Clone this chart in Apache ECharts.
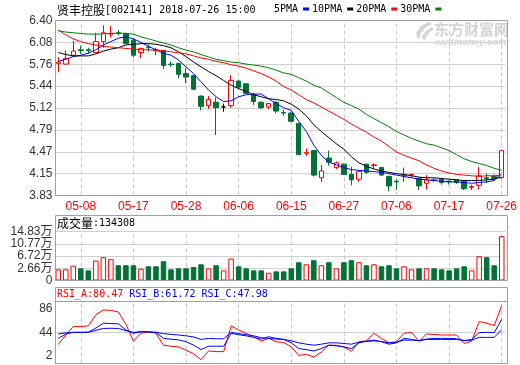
<!DOCTYPE html>
<html><head><meta charset="utf-8">
<script src="https://cdn.jsdelivr.net/npm/echarts@6/dist/echarts.min.js"></script>
<style>html,body{margin:0;padding:0;background:#fff}#c{width:520px;height:365px}</style>
</head><body><div id="c"></div>
<script>
const stockName = '贤丰控股', stockCode = '002141', stamp = '2018-07-26 15:00';
const dates = ['05-03','05-04','05-07','05-08','05-09','05-10','05-11','05-14','05-15','05-16','05-17','05-18','05-21','05-22','05-23','05-24','05-25','05-28','05-29','05-30','05-31',
 '06-01','06-04','06-05','06-06','06-07','06-08','06-11','06-12','06-13','06-14','06-15','06-19','06-20','06-21','06-22','06-25','06-26','06-27','06-28','06-29',
 '07-02','07-03','07-04','07-05','07-06','07-09','07-10','07-11','07-12','07-13','07-16','07-17','07-18','07-19','07-20','07-23','07-24','07-25','07-26'];
const labelDates = ['05-08','05-17','05-28','06-06','06-15','06-27','07-06','07-17','07-26'];
const opens  = [5.77,5.76,5.89,5.97,5.97,5.93,6.09,6.20,6.22,6.21,6.11,5.93,6.01,5.97,5.96,5.76,5.77,5.62,5.59,5.29,5.15,5.20,5.13,5.15,5.51,5.47,5.31,5.20,5.13,5.20,5.05,5.04,4.89,4.45,4.49,4.09,4.38,4.24,4.29,4.14,4.07,4.29,4.27,4.24,4.11,4.04,4.12,4.13,4.08,4.01,4.06,4.07,4.04,4.06,4.04,3.95,3.98,4.09,4.11,4.09];
const closes = [5.79,5.84,5.95,5.96,5.96,6.09,6.22,6.21,6.21,6.06,5.89,5.99,6.00,5.96,5.74,5.75,5.61,5.57,5.39,5.14,5.24,5.12,5.13,5.52,5.42,5.33,5.21,5.12,5.18,5.07,5.04,4.92,4.43,4.46,4.13,4.19,4.32,4.31,4.14,4.06,4.18,4.17,4.28,4.13,3.97,4.03,4.13,4.14,3.97,4.06,4.05,4.02,4.03,4.02,3.93,3.96,4.12,4.08,4.08,4.49];
const lows   = [5.64,5.75,5.87,5.91,5.91,5.92,6.00,6.15,6.18,6.05,5.86,5.85,5.94,5.89,5.69,5.72,5.55,5.48,5.38,5.08,5.10,4.72,5.06,5.12,5.39,5.32,5.16,5.10,5.10,5.04,5.00,4.91,4.43,4.41,4.11,4.03,4.27,4.22,4.13,3.98,4.03,4.15,4.22,4.12,3.89,3.91,4.03,4.09,3.91,3.92,4.03,3.99,3.99,4.00,3.91,3.91,3.92,4.01,4.05,4.08];
const highs  = [5.86,5.96,6.10,6.03,6.00,6.22,6.33,6.32,6.26,6.22,6.14,6.00,6.05,6.00,5.97,5.80,5.78,5.70,5.60,5.30,5.29,5.27,5.18,5.60,5.53,5.48,5.34,5.21,5.18,5.22,5.09,5.06,4.89,4.52,4.49,4.28,4.49,4.33,4.30,4.25,4.20,4.30,4.30,4.25,4.12,4.07,4.24,4.15,4.09,4.13,4.08,4.08,4.05,4.07,4.05,3.99,4.25,4.15,4.14,4.49];
const ma5  = [5.80,5.83,5.87,5.89,5.92,5.97,6.04,6.09,6.14,6.16,6.13,6.08,6.02,5.97,5.92,5.89,5.82,5.72,5.62,5.50,5.38,5.28,5.21,5.22,5.28,5.31,5.32,5.32,5.25,5.18,5.12,5.08,4.92,4.77,4.57,4.42,4.32,4.28,4.24,4.21,4.20,4.19,4.18,4.17,4.15,4.13,4.11,4.09,4.07,4.06,4.05,4.04,4.03,4.03,4.02,4.01,4.02,4.03,4.05,4.16];
const ma10 = [5.93,5.90,5.88,5.88,5.88,5.91,5.95,5.98,6.00,6.04,6.05,6.06,6.06,6.05,6.03,6.00,5.94,5.87,5.79,5.72,5.65,5.59,5.52,5.45,5.40,5.36,5.31,5.28,5.25,5.24,5.22,5.17,5.10,5.00,4.87,4.77,4.68,4.59,4.51,4.40,4.31,4.26,4.22,4.19,4.17,4.15,4.14,4.12,4.10,4.09,4.09,4.08,4.07,4.06,4.05,4.05,4.05,4.06,4.07,4.10];
const ma20 = [6.26,6.19,6.13,6.09,6.06,6.04,6.02,6.01,6.00,5.99,5.98,5.97,5.97,5.96,5.955,5.94,5.925,5.91,5.88,5.85,5.83,5.80,5.78,5.75,5.73,5.70,5.66,5.62,5.57,5.51,5.43,5.38,5.31,5.24,5.19,5.13,5.07,5.01,4.95,4.88,4.82,4.76,4.69,4.63,4.55,4.47,4.42,4.38,4.34,4.28,4.23,4.19,4.16,4.14,4.13,4.12,4.11,4.12,4.12,4.13];
const ma30 = [6.25,6.23,6.22,6.21,6.20,6.20,6.205,6.21,6.215,6.21,6.20,6.16,6.13,6.10,6.07,6.04,6.00,5.965,5.94,5.90,5.865,5.83,5.81,5.79,5.78,5.76,5.745,5.73,5.705,5.67,5.63,5.61,5.56,5.51,5.45,5.41,5.34,5.27,5.20,5.15,5.10,5.02,4.96,4.90,4.84,4.77,4.72,4.67,4.63,4.59,4.57,4.53,4.49,4.43,4.37,4.33,4.30,4.27,4.23,4.20];
const volumes = [3.38,3.38,4.50,3.68,3.07,6.04,7.06,6.45,4.61,4.61,4.61,3.58,4.30,4.30,5.83,3.38,3.68,3.68,4.09,4.91,3.68,4.61,3.07,6.65,4.30,3.68,3.07,3.07,2.35,2.76,2.76,3.68,5.53,4.91,6.14,4.61,5.53,3.68,5.53,6.14,5.53,4.61,4.91,4.30,4.61,3.68,4.30,3.38,3.68,3.68,3.68,3.38,3.07,3.68,4.30,3.07,7.37,7.06,4.61,13.4308];
const rsiA = [27.7,40.6,52,52,53,68.1,74.5,74,71.8,55.2,32.3,42.9,45.1,42.9,26.8,25.4,24.5,19.9,15.3,7.1,19,18.1,18.1,53,47.4,42.9,38.3,32.3,36,31.4,30.5,24.5,13,14.4,10.7,17.6,26.8,26.8,24.5,18.5,31.4,32.8,42.9,36,30,31.4,42.9,44.2,32.3,41.9,41.4,40.6,40.6,40.6,29.1,32.3,58.9,56.6,53.4,80.47];
const rsiB = [36,42,44.2,44.2,44.5,50,56.6,56.2,55.7,47.5,42.9,45.1,44.8,44.2,36,35,34,31.5,27,20.8,25.4,25.4,25.4,42.9,41,39.5,37.4,35,38.3,36,34.6,30,22.2,20.8,19,22.2,26.8,25.9,24.5,22.2,30,32.3,33.7,31.4,28.2,30,36,34.6,32.7,35.1,36,36,36,35.6,32.7,34.6,43.8,44.2,43.8,61.72];
const rsiC = [41.9,43.5,44.2,44.2,44.2,47,49.5,49.7,49.5,46.5,44.2,45.1,44.5,44.2,42.5,41.5,40.6,39.5,38,34.6,36,35.5,35.5,44.2,42.5,41,39.5,37,36,35.1,34.6,32.7,30,28.2,26.8,28.2,30,30,29.1,28.2,30.9,31.8,32.7,31.8,30,30.9,33.7,33.7,33.2,34.6,34.6,34.6,34.6,34.6,33.2,33.7,37.4,37.4,37.4,47.98];
const priceTicks = ['3.83','4.15','4.47','4.79','5.12','5.44','5.76','6.08','6.40'];
const volTicks = ['0','2.66万','6.72万','10.77万','14.83万'];
const rsiTicks = ['2','44','86'];

const RED = '#ff0000', GREEN = '#007236', BLUE = '#0000ff';
const MONO = 'DejaVu Sans Mono', CJK = 'Noto Sans CJK SC', SANS = "'Liberation Sans','Noto Sans CJK SC'";
const GRID_L = 54.5, GRID_W = 451;
const P_MIN = 3.83, P_MAX = 6.40, P_INT = (P_MAX - P_MIN) / 8;
const V_MAX = 14.83, V_INT = V_MAX / 4;

const chart = echarts.init(document.getElementById('c'), null, {renderer: 'canvas'});

const candleData = dates.map((d, i) => [opens[i], closes[i], lows[i], highs[i]]);
const volData = volumes.map((v, i) => ({
  value: v,
  itemStyle: closes[i] >= opens[i]
    ? {color: '#ffffff', borderColor: RED, borderWidth: 1}
    : {color: GREEN, borderColor: GREEN, borderWidth: 1}
}));
const vMark = {
  silent: true, z: 1, animation: false, symbol: ['none', 'none'],
  label: {show: false}, emphasis: {disabled: true},
  lineStyle: {type: [4, 3], color: '#c8c8c8', width: 1},
  data: labelDates.map(d => ({xAxis: d}))
};
function xAx(gi, show) {
  return {
    type: 'category', gridIndex: gi, data: dates, boundaryGap: true,
    axisLine: {show: false}, axisTick: {show: false}, splitLine: {show: false},
    axisLabel: show ? {
      show: true, color: RED, fontFamily: SANS, fontSize: 12, margin: 5,
      interval: (idx) => labelDates.indexOf(dates[idx]) >= 0
    } : {show: false}
  };
}
const splitL = {show: true, lineStyle: {color: '#d0d0d0', width: 1}};
const vol = volumes[volumes.length - 1];
const volHeader = String(Math.round(vol * 10000));

const option = {
  animation: false,
  backgroundColor: '#ffffff',
  title: [
    {text: `{c|${stockName}}{a|[${stockCode}] ${stamp}}`, left: 57, top: 4, padding: 0,
     textStyle: {fontWeight: 'normal', fontSize: 12, rich: {
       c: {fontFamily: CJK, fontSize: 12, color: '#000', fontWeight: 'normal'},
       a: {fontFamily: MONO, fontSize: 10, color: '#000', fontWeight: 'normal'}}}},
    {text: `{c|成交量}{a|:${volHeader}}`, left: 57, top: 217, padding: 0,
     textStyle: {fontWeight: 'normal', fontSize: 12, rich: {
       c: {fontFamily: CJK, fontSize: 12, color: '#000', fontWeight: 'normal'},
       a: {fontFamily: MONO, fontSize: 10, color: '#000', fontWeight: 'normal'}}}},
    {text: `{r|RSI_A:${rsiA[rsiA.length-1].toFixed(2)} }{b|RSI_B:${rsiB[rsiB.length-1].toFixed(2)} }{b|RSI_C:${rsiC[rsiC.length-1].toFixed(2)}}`,
     left: 57, top: 289, padding: 0,
     textStyle: {fontWeight: 'normal', fontSize: 10, rich: {
       r: {fontFamily: MONO, fontSize: 10, color: RED, fontWeight: 'normal'},
       b: {fontFamily: MONO, fontSize: 10, color: BLUE, fontWeight: 'normal'}}}}
  ],
  legend: {
    data: ['5PMA', '10PMA', '20PMA', '30PMA'], left: 274, top: 4, padding: 0,
    icon: 'rect', itemWidth: 6, itemHeight: 3, itemGap: 3, align: 'right', selectedMode: false,
    textStyle: {fontFamily: MONO, fontSize: 10, color: '#000'}
  },
  grid: [
    {left: GRID_L, width: GRID_W, top: 20.5, height: 175},
    {left: GRID_L, width: GRID_W, top: 231.5, height: 49},
    {left: GRID_L, width: GRID_W, top: 301.5, height: 62}
  ],
  xAxis: [xAx(0, true), xAx(1, false), xAx(2, false)],
  yAxis: [
    {type: 'value', gridIndex: 0, min: P_MIN, max: P_MAX, interval: P_INT,
     axisLine: {show: false}, axisTick: {show: false}, splitLine: splitL,
     axisLabel: {color: '#333', fontFamily: SANS, fontSize: 12, margin: 2,
       formatter: v => priceTicks[Math.round((v - P_MIN) / P_INT)]}},
    {type: 'value', gridIndex: 1, min: 0, max: V_MAX, interval: V_INT,
     axisLine: {show: false}, axisTick: {show: false}, splitLine: splitL,
     axisLabel: {color: '#333', fontFamily: SANS, fontSize: 12, margin: 2,
       formatter: v => volTicks[Math.round(v / V_INT)]}},
    {type: 'value', gridIndex: 2, min: 2, max: 86, interval: 42,
     axisLine: {show: false}, axisTick: {show: false}, splitLine: splitL,
     axisLabel: {color: '#333', fontFamily: SANS, fontSize: 12, margin: 2,
       formatter: v => {
         const k = Math.round((v - 2) / 42);
         return (k === 2 ? '{t|' : k === 0 ? '{b|' : '{m|') + rsiTicks[k] + '}';
       },
       rich: {
         t: {fontFamily: SANS, fontSize: 12, color: '#333', padding: [15, 0, 0, 0]},
         m: {fontFamily: SANS, fontSize: 12, color: '#333'},
         b: {fontFamily: SANS, fontSize: 12, color: '#333', padding: [0, 0, 15, 0]}
       }}}
  ],
  series: [
    {type: 'candlestick', name: 'K', xAxisIndex: 0, yAxisIndex: 0, data: candleData, barWidth: 5, z: 3,
     itemStyle: {color: '#ffffff', color0: GREEN, borderColor: RED, borderColor0: GREEN, borderColorDoji: '#000000', borderWidth: 1},
     markLine: vMark},
    {type: 'line', name: '5PMA', xAxisIndex: 0, yAxisIndex: 0, data: ma5, symbol: 'none', z: 4, color: BLUE, lineStyle: {color: BLUE, width: 1}},
    {type: 'line', name: '10PMA', xAxisIndex: 0, yAxisIndex: 0, data: ma10, symbol: 'none', z: 4, color: '#000000', lineStyle: {color: '#000000', width: 1}},
    {type: 'line', name: '20PMA', xAxisIndex: 0, yAxisIndex: 0, data: ma20, symbol: 'none', z: 4, color: RED, lineStyle: {color: RED, width: 1}},
    {type: 'line', name: '30PMA', xAxisIndex: 0, yAxisIndex: 0, data: ma30, symbol: 'none', z: 4, color: '#008000', lineStyle: {color: '#008000', width: 1}},
    {type: 'bar', name: 'VOL', xAxisIndex: 1, yAxisIndex: 1, data: volData, barWidth: 5.5, z: 3, markLine: vMark},
    {type: 'line', name: 'RSI_A', xAxisIndex: 2, yAxisIndex: 2, data: rsiA, symbol: 'none', z: 4, lineStyle: {color: RED, width: 1}, markLine: vMark},
    {type: 'line', name: 'RSI_B', xAxisIndex: 2, yAxisIndex: 2, data: rsiB, symbol: 'none', z: 4, lineStyle: {color: BLUE, width: 1}},
    {type: 'line', name: 'RSI_C', xAxisIndex: 2, yAxisIndex: 2, data: rsiC, symbol: 'none', z: 4, lineStyle: {color: BLUE, width: 1}}
  ],
  graphic: [
    {type: 'text', x: 434, y: 22, z: 0, silent: true,
     style: {text: '东方财富网', fontFamily: CJK, fontSize: 15, fontWeight: 'bold', fill: '#d4d4d4'}},
    {type: 'text', x: 435, y: 37, z: 0, silent: true,
     style: {text: 'eastmoney.com', fontFamily: 'Liberation Sans', fontSize: 9.5, fontWeight: 'bold', fontStyle: 'italic', fill: '#d4d4d4'}},
    {type: 'polygon', z: 0, silent: true,
     shape: {points: [[429,22],[421,26],[416,33],[418,40],[421,33],[425,28],[432,24]]}, style: {fill: '#d4d4d4'}},
    {type: 'polygon', z: 0, silent: true,
     shape: {points: [[432,27],[426,31],[422,36],[424,41],[427,36],[430,32],[434,29]]}, style: {fill: '#d4d4d4'}},
    {type: 'rect', z: 100, silent: true, shape: {x: 55.5, y: 20.5, width: 452, height: 175}, style: {fill: 'none', stroke: '#a0a0a0', lineWidth: 1}},
    {type: 'rect', z: 100, silent: true, shape: {x: 55.5, y: 215.5, width: 452, height: 65}, style: {fill: 'none', stroke: '#a0a0a0', lineWidth: 1}},
    {type: 'rect', z: 100, silent: true, shape: {x: 55.5, y: 287.5, width: 452, height: 76}, style: {fill: 'none', stroke: '#a0a0a0', lineWidth: 1}},
    {type: 'line', z: 100, silent: true, shape: {x1: 55.5, y1: 301.5, x2: 507.5, y2: 301.5}, style: {stroke: '#a0a0a0', lineWidth: 1}}
  ]
};
chart.setOption(option);
</script>
</body></html>
